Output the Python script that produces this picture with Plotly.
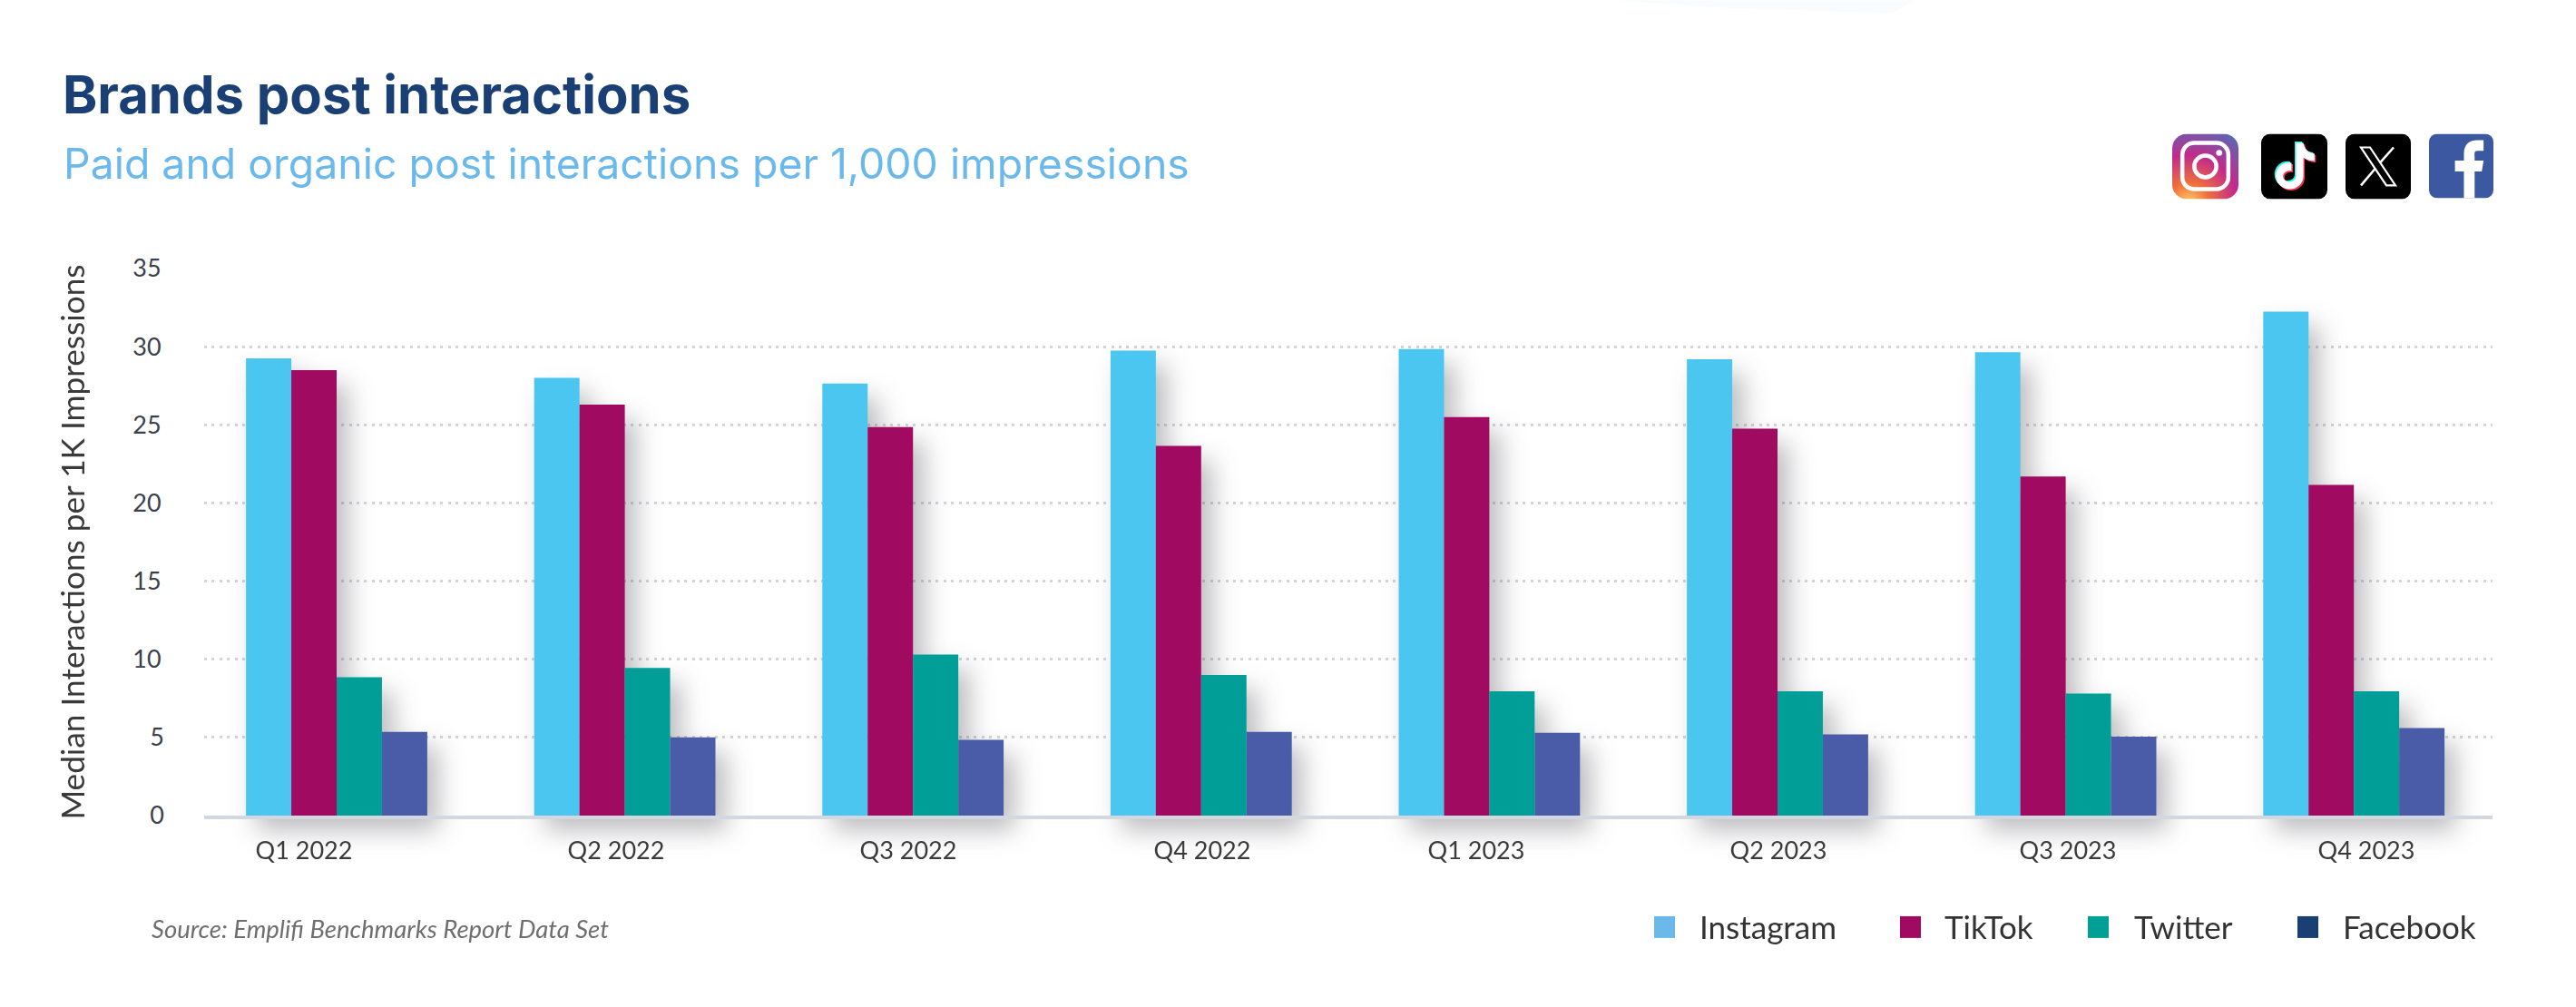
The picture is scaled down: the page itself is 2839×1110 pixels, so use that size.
import base64
import plotly.graph_objects as go

W, H = 2839, 1110
FONT = "Lato"

quarters = ["Q1 2022", "Q2 2022", "Q3 2022", "Q4 2022", "Q1 2023", "Q2 2023", "Q3 2023", "Q4 2023"]
data = {
    "Instagram": [29.25, 28.0, 27.65, 29.75, 29.85, 29.2, 29.65, 32.25],
    "TikTok": [28.5, 26.3, 24.85, 23.65, 25.5, 24.75, 21.7, 21.15],
    "Twitter": [8.85, 9.45, 10.3, 9.0, 7.95, 7.95, 7.8, 7.95],
    "Facebook": [5.35, 5.0, 4.85, 5.35, 5.3, 5.2, 5.05, 5.6],
}
bar_colors = {"Instagram": "#4AC6F0", "TikTok": "#A00A60", "Twitter": "#009E96", "Facebook": "#4A5CA8"}

# plot box in page pixels
L, R, T, B = 225, 2747, 295.6, 899
STEP = 317.6
FIRST = 371.0


# paper coordinates are measured on the plot box, not the page
def px(x):
    return (x - L) / (R - L)


def py(y):
    return (B - y) / (B - T)


def svg_uri(body):
    svg = f'<svg xmlns="http://www.w3.org/2000/svg" viewBox="0 0 72 72">{body}</svg>'
    return "data:image/svg+xml;base64," + base64.b64encode(svg.encode()).decode()


instagram = """
<defs><radialGradient id="g" cx="0.25" cy="1.05" r="1.2">
<stop offset="0" stop-color="#FDCB6A"/><stop offset="0.25" stop-color="#F0703A"/>
<stop offset="0.6" stop-color="#C32A8C"/><stop offset="1" stop-color="#5A68B4"/>
</radialGradient></defs>
<rect width="72" height="72" rx="16" fill="url(#g)"/>
<rect x="11" y="10" width="50" height="51" rx="13" fill="none" stroke="#fff" stroke-width="4.5"/>
<circle cx="36" cy="36" r="12" fill="none" stroke="#fff" stroke-width="4.5"/>
<circle cx="51" cy="21" r="3.3" fill="#fff"/>
"""
note = "M38 10 h8 c1 7 5 11 12 12 v8 c-5 0 -9 -1.5 -12 -4 v20 c0 9 -7 15 -15 15 c-9 0 -15 -7 -15 -15 c0 -9 8 -16 17 -14 v9 c-5 -1 -9 2 -9 5.5 c0 4 3 6.5 6.5 6.5 c4 0 7.500 -3 7.500 -7 z"
tiktok = f"""
<rect width="72" height="72" rx="10" fill="#000"/>
<path d="{note}" fill="#25F4EE" transform="translate(-1.500,-1.500)"/>
<path d="{note}" fill="#FE2C55" transform="translate(1.500,1.500)"/>
<path d="{note}" fill="#fff"/>
"""
x_logo = """
<rect width="72" height="72" rx="10" fill="#000"/>
<path d="M17 15 h10 l28 42 h-10 z" fill="none" stroke="#fff" stroke-width="2.200"/>
<path d="M53 15 L38 32 M33 38 L17 57" fill="none" stroke="#fff" stroke-width="2.600"/>
"""
facebook = """
<rect width="72" height="72" rx="9" fill="#3B58A0"/>
<path d="M39 72 V42 H29 V30 H39 V22 C39 11 46 7 54 7 H61 V19 H54 C50 19 51 22 51 26 V30 H61 L59 42 H51 V72 Z" fill="#fff"/>
"""
icons = [(2394, 147, 73, 72, instagram), (2492, 147, 73, 72, tiktok), (2585, 147, 72, 72, x_logo), (2677, 147, 71, 71, facebook)]

fig = go.Figure()
for name, values in data.items():
    fig.add_bar(x=list(range(len(quarters))), y=values, name=name, marker_color=bar_colors[name],
                marker_line_width=0, showlegend=False, cliponaxis=False)

# quarter labels sit a little off the group centres in the original
label_px = [335, 679, 1001, 1325, 1627, 1960, 2279, 2608]

fig.update_layout(
    width=W,
    height=H,
    margin=dict(l=L, r=W - R, t=T, b=H - B),
    paper_bgcolor="white",
    plot_bgcolor="white",
    barmode="group",
    bargap=0.371,
    bargroupgap=0,
    font=dict(family=FONT, color="#3A3F4B"),
    showlegend=False,
)
fig.update_xaxes(
    range=[(L - FIRST) / STEP, (R - FIRST) / STEP],
    tickmode="array",
    tickvals=[(p - FIRST) / STEP for p in label_px],
    ticktext=quarters,
    tickfont=dict(size=27, color="#3A3A3A", family=FONT),
    ticks="",
    ticklabelstandoff=12,
    showgrid=False,
    zeroline=False,
    showline=True,
    linecolor="#D3D7E0",
    linewidth=4,
)
fig.update_yaxes(
    range=[0, 35],
    tickmode="array",
    tickvals=[0, 5, 10, 15, 20, 25, 30, 35],
    ticktext=["0", "5", "10\u2009", "15\u2009", "20\u2009", "25\u2009", "30\u2009", "35\u2009"],
    tickfont=dict(size=27, color="#3A3F4B", family=FONT),
    ticks="",
    ticklabelstandoff=43,
    showgrid=True,
    gridcolor="#D4D5DB",
    gridwidth=3,
    griddash="3px,5.4px",
    zeroline=False,
    showline=False,
    title=dict(text="Median Interactions per 1K Impressions", font=dict(size=35.2, color="#3A3A3A", family=FONT), standoff=41),
)

fig.add_annotation(text="<b>Brands post interactions</b>", xref="paper", yref="paper", x=px(67), y=py(103),
                   xanchor="left", yanchor="middle", showarrow=False,
                   font=dict(family="Inter", size=58, color="#1A3F75"))
fig.add_annotation(text="Paid and organic post interactions per 1,000 impressions", xref="paper", yref="paper",
                   x=px(68), y=py(180), xanchor="left", yanchor="middle", showarrow=False,
                   font=dict(family="Inter", size=46.4, color="#6BB9EB"))
fig.add_annotation(text="<i>Source: Emplifi Benchmarks Report Data Set</i>", xref="paper", yref="paper",
                   x=px(165), y=py(1024), xanchor="left", yanchor="middle", showarrow=False,
                   font=dict(family=FONT, size=27.5, color="#6E6E6E"))

# legend swatches are a different shade from the bars, so it is laid out by hand
legend = [("Instagram", 1823, 1871, "#6BB9EB"), ("TikTok", 2094, 2141, "#A00A60"),
          ("Twitter", 2301, 2350, "#00A096"), ("Facebook", 2532, 2580, "#1A3F75")]
for name, sx, tx, color in legend:
    fig.add_shape(type="rect", xref="paper", yref="paper", x0=px(sx), x1=px(sx + 23), y0=py(1010), y1=py(1034),
                  fillcolor=color, line_width=0)
    fig.add_annotation(text=name, xref="paper", yref="paper", x=px(tx), y=py(1021), xanchor="left", yanchor="middle",
                       showarrow=False, font=dict(family=FONT, size=35, color="#333333"))

# faint tint that bleeds in at the top edge of the page
fig.add_shape(type="path", xref="paper", yref="paper",
              path=f"M {px(1780)} {py(0)} L {px(2110)} {py(0)} L {px(2085)} {py(14)} L {px(1900)} {py(8)} Z",
              fillcolor="#F8FCFE", line_width=0, layer="below")

for x0, y0, w, h, body in icons:
    fig.add_layout_image(source=svg_uri(body), xref="paper", yref="paper", x=px(x0), y=py(y0),
                         sizex=w / (R - L), sizey=h / (B - T), xanchor="left", yanchor="top",
                         sizing="stretch", layer="above")

# soft shadow under the bars
shadow = """
document.body.style.margin = '0';
document.querySelectorAll('.barlayer').forEach(function (g) {
  g.style.filter = 'drop-shadow(12px 16px 14px rgba(60,60,70,0.35))';
});
"""
fig.write_html("out.html", post_script=shadow, config={"displayModeBar": False})
